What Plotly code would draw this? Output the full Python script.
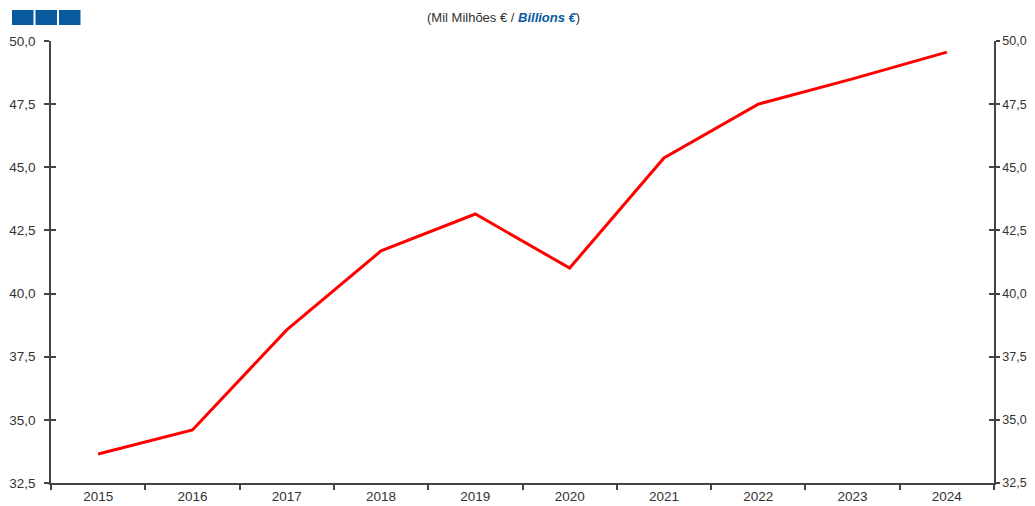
import plotly.graph_objects as go

years = ["2015", "2016", "2017", "2018", "2019", "2020", "2021", "2022", "2023", "2024"]
values = [33.65, 34.6, 38.56, 41.69, 43.15, 41.01, 45.37, 47.5, 48.5, 49.56]

AXIS_COLOR = "#444444"
TEXT_COLOR = "#333333"
LINE_RED = "#ff0000"
BLUE = "#0a5aa0"
FONT = "Liberation Sans, Arial, sans-serif"

Y_RANGE = [32.5, 50]

# the page body has an 8px default margin, so the figure is sized to fit inside it
fig = go.Figure()
fig.add_trace(go.Scatter(
    x=years, y=values,
    mode="lines",
    line=dict(color=LINE_RED, width=3),
    showlegend=False,
    hoverinfo="x+y",
))

yax_common = dict(
    range=Y_RANGE, dtick=2.5, tick0=32.5, tickformat=".1f",
    showgrid=False, zeroline=False, automargin=False,
    showline=True, linecolor=AXIS_COLOR, linewidth=1.5,
    tickcolor=AXIS_COLOR, ticklen=5, tickwidth=1.5,
    tickfont=dict(family=FONT, size=13.5, color=TEXT_COLOR),
)

fig.update_layout(
    width=1027, height=498,
    margin=dict(l=43, r=41, t=33, b=23, autoexpand=False),
    paper_bgcolor="white", plot_bgcolor="white",
    separators=",.",
    font=dict(family=FONT, color=TEXT_COLOR, size=13),
    xaxis=dict(
        type="category", tickson="boundaries", range=[-0.5, 9.5],
        showgrid=False, zeroline=False, automargin=False,
        showline=True, linecolor=AXIS_COLOR, linewidth=2,
        ticks="outside", ticklen=5, tickwidth=1.5, tickcolor=AXIS_COLOR,
        tickfont=dict(family=FONT, size=13.5, color=TEXT_COLOR),
    ),
    yaxis=dict(**yax_common, side="left", ticks="outside", ticklabelstandoff=6),
    yaxis3=dict(**yax_common, side="left", ticks="inside", overlaying="y", matches="y",
                showticklabels=False),
    yaxis4=dict(**yax_common, side="right", ticks="inside", overlaying="y", matches="y",
                showticklabels=False),
)
right_axis = {**yax_common, "tickfont": dict(family=FONT, size=12.5, color=TEXT_COLOR), "ticklen": 4}
fig.update_layout(yaxis2=dict(**right_axis, side="right", ticks="outside", overlaying="y",
                              matches="y", ticklabelstandoff=0))

# invisible traces so the extra axes are drawn
for ax in ["y2", "y3", "y4"]:
    fig.add_trace(go.Scatter(x=years, y=values, yaxis=ax, mode="lines",
                             line=dict(width=0), opacity=0, showlegend=False,
                             hoverinfo="skip"))

fig.add_annotation(
    xref="paper", yref="paper", x=0.48, y=1.0, yshift=24,
    xanchor="center", yanchor="middle", showarrow=False,
    text=f"(Mil Milhões € / <b><i><span style='color:{BLUE}'>Billions €</span></i></b>)",
    font=dict(family=FONT, size=13, color=TEXT_COLOR),
)

# three blue squares in the top-left corner
for i in range(3):
    x0 = 12 + i * 23.5
    fig.add_shape(type="rect", xref="paper", yref="paper",
                  x0=(x0 - 51) / 943, x1=(x0 + 21.5 - 51) / 943,
                  y0=(483 - 25) / 442, y1=(483 - 10) / 442,
                  fillcolor=BLUE, line=dict(width=0), layer="above")

fig.write_html("out.html")
